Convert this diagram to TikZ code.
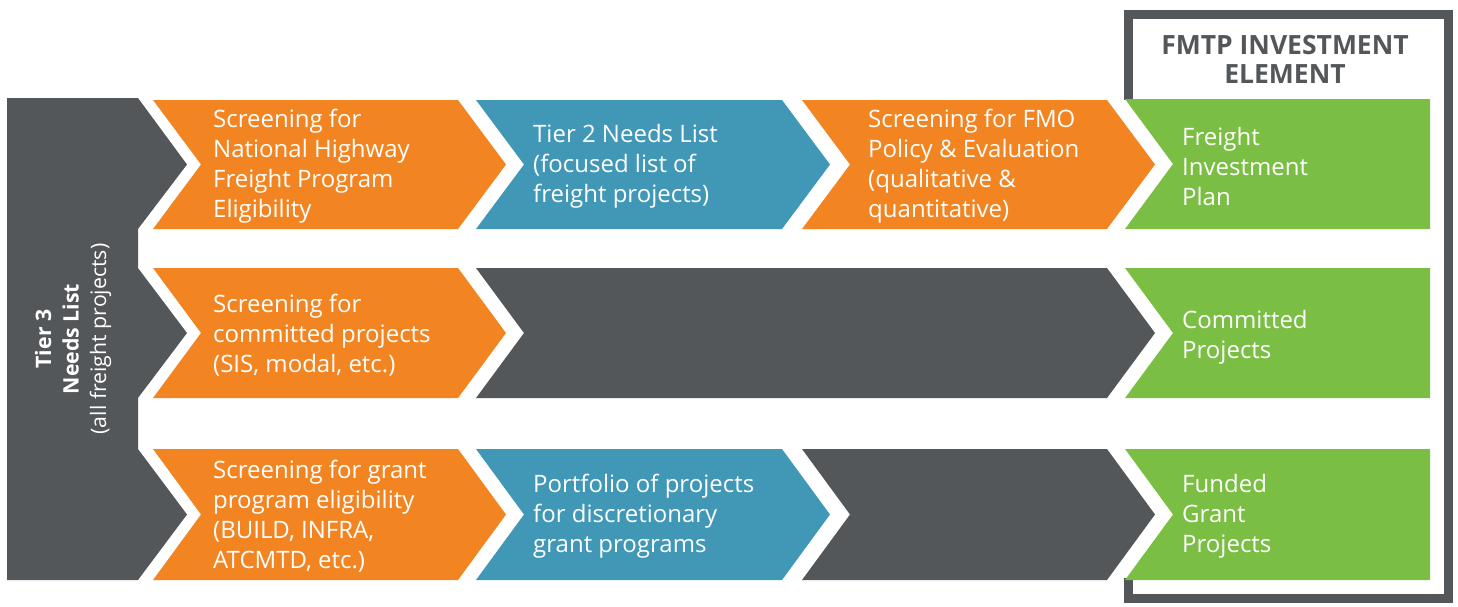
\documentclass[tikz,border=0pt]{standalone}
\usepackage{fontspec}
\setmainfont{Open Sans}
\definecolor{corange}{HTML}{F28522}
\definecolor{cblue}{HTML}{4098B6}
\definecolor{cdark}{HTML}{54575A}
\definecolor{cgreen}{HTML}{7ABE43}
\tikzset{
  lbl/.style={anchor=west, align=left, text=white, inner sep=0pt, font=\fontsize{24}{30}\selectfont},
  sidelbl/.style={align=center, text=white, inner sep=0pt, rotate=90, font=\fontsize{21.3}{27.5}\selectfont},
  titlelbl/.style={align=center, text=cdark, inner sep=0pt, font=\bfseries\fontsize{26.5}{29}\selectfont},
  frameline/.style={draw=cdark, line width=9pt, line join=miter}
}
\begin{document}
\begin{tikzpicture}[x=1pt,y=-1pt]
\useasboundingbox (0,0) rectangle (1458,606);
% frame
\draw[frameline] (1128.5,100) -- (1128.5,14.5) -- (1448.5,14.5) -- (1448.5,598.5) -- (1128.5,598.5) -- (1128.5,578);
\node[titlelbl] (title) at (1285,59) {FMTP INVESTMENT\\ELEMENT};
% left dark bar
\fill[cdark] (7,98) -- (138,98) -- (187,164.5) -- (138,229) -- (138,268) -- (187,333) -- (138,398)
  -- (138,449) -- (187,514.5) -- (138,580) -- (7,580) -- cycle;
\node[sidelbl] (tier3) at (73,339) {\textbf{Tier 3}\\\textbf{Needs List}\\(all freight projects)};
% row 1
\fill[corange] (153,100) -- (458,100) -- (506,164.5) -- (458,229) -- (153,229) -- (201,164.5) -- cycle;
\fill[cblue] (476,100) -- (782,100) -- (830,164.5) -- (782,229) -- (476,229) -- (524,164.5) -- cycle;
\fill[corange] (802,100) -- (1107,100) -- (1155,164.5) -- (1107,229) -- (802,229) -- (850,164.5) -- cycle;
\fill[cgreen] (1125,99) -- (1430,99) -- (1430,229) -- (1125,229) -- (1173,164) -- cycle;
\node[lbl] (r1a) at (213,166) {Screening for\\National Highway\\Freight Program\\Eligibility};
\node[lbl] (r1b) at (533,166) {Tier 2 Needs List\\(focused list of\\freight projects)};
\node[lbl] (r1c) at (868,166) {Screening for FMO\\Policy \& Evaluation\\(qualitative \&\\quantitative)};
\node[lbl] (r1d) at (1182,166) {Freight\\Investment\\Plan};
% row 2
\fill[corange] (153,268) -- (458,268) -- (506,333) -- (458,398) -- (153,398) -- (201,333) -- cycle;
\fill[cdark] (476,268) -- (1107,268) -- (1155,333) -- (1107,398) -- (476,398) -- (524,333) -- cycle;
\fill[cgreen] (1125,268) -- (1430,268) -- (1430,398) -- (1125,398) -- (1173,333) -- cycle;
\node[lbl] (r2a) at (213,335) {Screening for\\committed projects\\(SIS, modal, etc.)};
\node[lbl] (r2d) at (1182,337) {Committed\\Projects};
% row 3
\fill[corange] (153,449) -- (458,449) -- (506,514.5) -- (458,580) -- (153,580) -- (201,514.5) -- cycle;
\fill[cblue] (476,449) -- (782,449) -- (830,514.5) -- (782,580) -- (476,580) -- (524,514.5) -- cycle;
\fill[cdark] (802,449) -- (1107,449) -- (1155,514.5) -- (1107,580) -- (802,580) -- (850,514.5) -- cycle;
\fill[cgreen] (1125,449) -- (1430,449) -- (1430,580) -- (1125,580) -- (1173,514.5) -- cycle;
\node[lbl] (r3a) at (213,516) {Screening for grant\\program eligibility\\(BUILD, INFRA,\\ATCMTD, etc.)};
\node[lbl] (r3b) at (533,516) {Portfolio of projects\\for discretionary\\grant programs};
\node[lbl] (r3d) at (1182,516) {Funded\\Grant\\Projects};
\end{tikzpicture}
\end{document}
